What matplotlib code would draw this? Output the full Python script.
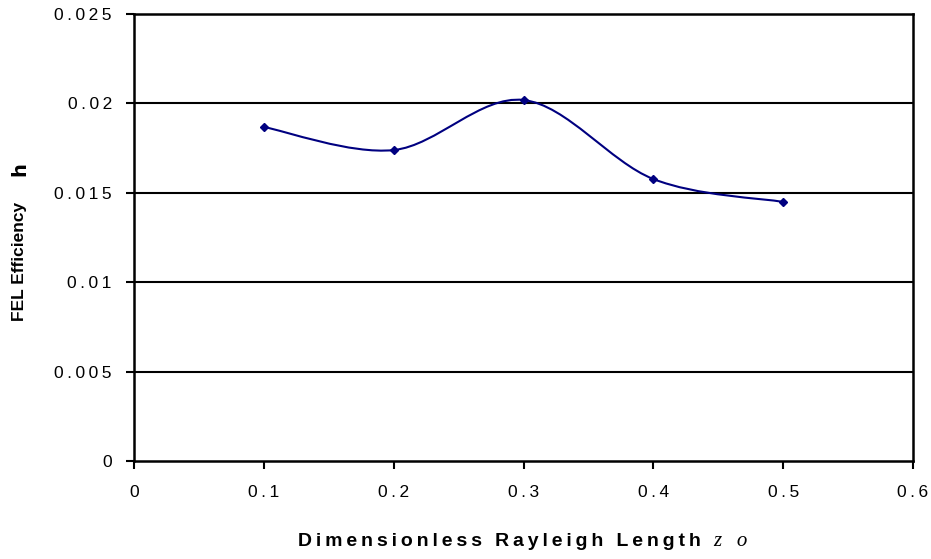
import numpy as np
import matplotlib.pyplot as plt
from matplotlib.path import Path
from matplotlib.patches import PathPatch

plt.rcParams['font.family'] = ['Liberation Sans', 'DejaVu Sans']

# Efficacité FEL en fonction de la longueur de Rayleigh
z0 = [0.1, 0.2, 0.3, 0.4, 0.5]
eta = [0.01868, 0.01739, 0.02019, 0.01577, 0.01449]

x_ticks = [0, 0.1, 0.2, 0.3, 0.4, 0.5, 0.6]
y_ticks = [0, 0.005, 0.01, 0.015, 0.02, 0.025]
x_ticklabels = ['0', '0.1', '0.2', '0.3', '0.4', '0.5', '0.6']
y_ticklabels = ['0', '0.005', '0.01', '0.015', '0.02', '0.025']

navy = '#000080'
sp = '\u2009'  # espacement entre les lettres


def espace(s):
    return sp.join(s)


fig = plt.figure(figsize=(9.31, 5.59), dpi=100)
ax = fig.add_axes([134 / 931, 98 / 559, 779 / 931, 447 / 559])


def courbe_lissee(x, y):
    # segments de Bézier façon "ligne lissée" d'Excel
    p = np.column_stack([x, y])
    n = len(p)
    verts = [p[0]]
    codes = [Path.MOVETO]
    for i in range(n - 1):
        p_prev = p[i - 1] if i > 0 else p[i]
        p_next2 = p[i + 2] if i + 2 < n else p[i + 1]
        c1 = p[i] + (p[i + 1] - p_prev) / 6
        c2 = p[i + 1] - (p_next2 - p[i]) / 6
        verts += [c1, c2, p[i + 1]]
        codes += [Path.CURVE4] * 3
    return Path(verts, codes)


for yv in y_ticks[1:-1]:
    ax.axhline(yv, color='black', lw=1.5, zorder=1)

ax.add_patch(PathPatch(courbe_lissee(z0, eta), fill=False, edgecolor=navy, lw=1.5, zorder=3))
ax.plot(z0, eta, linestyle='none', marker='D', markersize=4.5, color=navy, zorder=4)

ax.set_xlim(0, 0.6)
ax.set_ylim(0, 0.025)
ax.set_xticks(x_ticks)
ax.set_xticklabels([espace(t) for t in x_ticklabels])
ax.set_yticks(y_ticks)
ax.set_yticklabels([espace(t) for t in y_ticklabels])
ax.tick_params(axis='both', direction='out', length=6, width=1.5, labelsize=12.5, colors='black')
ax.tick_params(axis='x', pad=11)
ax.tick_params(axis='y', pad=10)
for lab in ax.get_yticklabels():
    lab.set_va('center_baseline')
for s in ax.spines.values():
    s.set_linewidth(1.8)
    s.set_color('black')

# titres des axes
fig.text(298 / 931, 17 / 559, espace('Dimensionless Rayleigh Length'), fontsize=14,
         fontweight='bold', ha='left', va='center')
fig.text(713 / 931, 17 / 559, 'z   o', fontsize=15, style='italic', family='Liberation Serif',
         ha='left', va='center')
fig.text(20 / 931, 1 - 261 / 559, 'FEL Efficiency', fontsize=12.5, fontweight='bold',
         rotation=90, ha='center', va='center')
fig.text(20 / 931, 1 - 169 / 559, 'h', fontsize=14, fontweight='bold', family='DejaVu Sans',
         rotation=90, ha='center', va='center')

plt.savefig('out.png', dpi=100)
